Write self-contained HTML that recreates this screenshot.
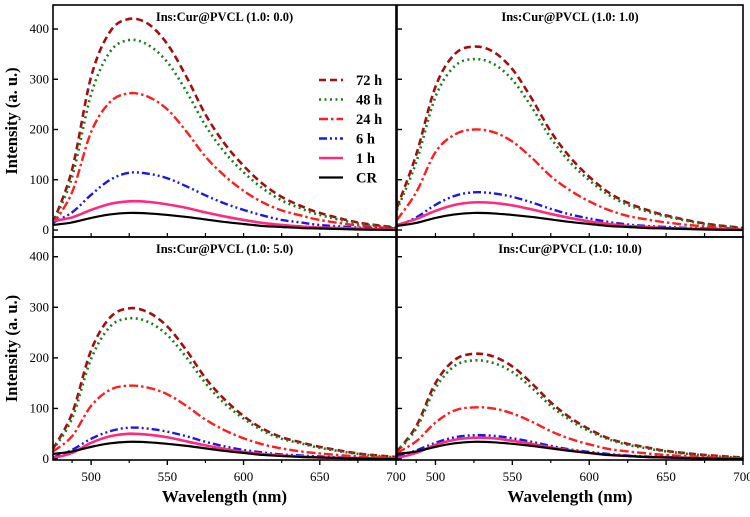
<!DOCTYPE html>
<html><head><meta charset="utf-8"><style>
body{margin:0;background:#fff}
svg text{font-family:"Liberation Serif",serif;font-weight:bold}
</style></head><body>
<svg id="c" width="750" height="512" viewBox="0 0 750 512"></svg>
<script>
const wavelengths=[475,487.5,500,512.5,525,537.5,550,562.5,575,587.5,600,612.5,625,637.5,650,675,700];
const seriesLabels=["72 h","48 h","24 h","6 h","1 h","CR"];
const panelTitles=["Ins:Cur@PVCL (1.0: 0.0)","Ins:Cur@PVCL (1.0: 1.0)","Ins:Cur@PVCL (1.0: 5.0)","Ins:Cur@PVCL (1.0: 10.0)"];
const xTicks=[500,550,600,650,700];
const yTicks=[0,100,200,300,400];
const panelA=[
[15,120,305,395,420,410,370,305,230,172,128,92,66,48,34,15,5],
[14,105,270,355,378,368,334,276,208,155,115,83,59,43,30,13,4],
[12,75,195,255,272,265,240,196,146,108,78,55,39,29,20,9,3],
[15,35,70,100,114,112,103,87,69,53,40,29,20,15,10,5,2],
[18,25,40,52,57,56,51,44,35,27,20,14,10,7,5,3,1],
[10,15,24,31,34,33,30,26,21,16,12,8,6,4,3,1,0]];
const panelB=[
[45,150,285,350,365,355,320,262,196,145,106,75,54,40,29,13,4],
[40,135,265,326,340,331,299,245,183,135,99,70,50,37,27,12,4],
[20,75,155,190,200,195,176,144,107,79,57,40,28,21,15,7,2],
[8,25,50,68,75,73,66,55,42,31,23,16,11,8,6,3,1],
[10,22,38,50,55,54,49,41,32,24,17,12,8,6,4,2,1],
[8,14,24,31,34,33,30,26,21,16,12,8,6,4,3,1,0]];
const panelC=[
[20,90,215,280,298,290,262,215,160,118,85,60,43,33,24,11,4],
[18,80,198,262,278,271,245,201,150,110,80,56,40,31,22,10,3],
[15,45,105,137,145,141,128,105,78,57,41,29,21,15,11,5,2],
[3,18,40,55,62,60,54,45,34,25,18,13,9,7,5,2,1],
[2,12,32,45,50,48,43,35,27,20,14,10,7,5,3,2,1],
[10,15,24,31,34,33,30,26,21,16,12,8,6,4,3,1,0]];
const panelD=[
[15,65,150,196,208,203,183,150,112,82,59,41,30,23,16,8,3],
[14,60,140,184,195,190,172,141,105,77,55,39,28,21,15,7,2],
[12,35,72,96,102,100,90,74,55,40,29,20,15,11,8,4,1],
[5,17,32,43,47,46,41,34,26,19,14,10,7,5,4,2,1],
[2,12,28,38,42,41,36,30,23,17,12,8,6,4,3,2,1],
[10,15,24,31,34,33,30,26,21,16,12,8,6,4,3,1,0]];
const allPanels=[panelA,panelB,panelC,panelD];

const NS="http://www.w3.org/2000/svg";
const svg=document.getElementById('c');
function mk(tag,attrs,parent){const e=document.createElementNS(NS,tag);for(const k in attrs)e.setAttribute(k,attrs[k]);(parent||svg).appendChild(e);return e;}
const styles=[
{stroke:"#a30f0f",w:2.6,dash:"7,4"},
{stroke:"#1b7d1b",w:2.6,dash:"2,3.5"},
{stroke:"#ff1e1e",w:2.4,dash:"9,3,2.5,3"},
{stroke:"#1a1ae6",w:2.4,dash:"8,3,2,3,2,3"},
{stroke:"#ff2a7f",w:2.6,dash:""},
{stroke:"#000",w:2.2,dash:""}];
const geo=[
{x0:53,x1:396,top:5,zero:230,k:0.5025},
{x0:397,x1:743,top:5,zero:230,k:0.5025},
{x0:53,x1:396,top:237,zero:459,k:0.5057},
{x0:397,x1:743,top:237,zero:459,k:0.5057}];
geo.forEach((g,pi)=>{
  const xs=v=>g.x0+(v-475)/225*(g.x1-g.x0);
  const ys=v=>g.zero-v*g.k;
  const bottom=pi<2?237:460;
  const grp=mk('g',{});
  
  
  const clipId='cl'+pi;
  const cp=mk('clipPath',{id:clipId},grp);mk('rect',{x:g.x0,y:g.top,width:g.x1-g.x0,height:bottom-g.top},cp);
  allPanels[pi].forEach((vals,si)=>{
    const pts=vals.map((v,i)=>[xs(wavelengths[i]),ys(v)]);
    let d="M"+pts[0][0]+","+pts[0][1];
    for(let i=0;i<pts.length-1;i++){
      const p0=pts[Math.max(0,i-1)],p1=pts[i],p2=pts[i+1],p3=pts[Math.min(pts.length-1,i+2)];
      d+=" C"+(p1[0]+(p2[0]-p0[0])/6)+","+(p1[1]+(p2[1]-p0[1])/6)+" "+(p2[0]-(p3[0]-p1[0])/6)+","+(p2[1]-(p3[1]-p1[1])/6)+" "+p2[0]+","+p2[1];
    }
    const s=styles[si];
    const p=mk('path',{d:d,fill:"none",stroke:s.stroke,"stroke-width":s.w,"stroke-dasharray":s.dash,"clip-path":"url(#"+clipId+")"},grp);
    
    
  });
  const fr=mk('rect',{x:g.x0,y:g.top,width:g.x1-g.x0,height:bottom-g.top,fill:"none",stroke:"#000","stroke-width":1.6},grp);
  
  
  yTicks.forEach(t=>{
    mk('line',{x1:g.x0,x2:g.x0+5,y1:ys(t),y2:ys(t),stroke:"#000","stroke-width":1.4},grp);
    if(pi===0||pi===2){
      const tl=mk('text',{x:g.x0-4,y:ys(t)+4,"text-anchor":"end","font-size":13,style:"font-weight:normal"},grp);
      tl.textContent=t;
      
      
    }
  });
  if(pi>=2){
    xTicks.forEach(t=>{
      mk('line',{x1:xs(t),x2:xs(t),y1:bottom,y2:bottom+5,stroke:"#000","stroke-width":1.4},grp);
      const tl=mk('text',{x:xs(t),y:481,"text-anchor":"middle","font-size":13,style:"font-weight:normal"},grp);
      tl.textContent=t;
      
      
    });
    [487.5,525,575,625,675].forEach(t=>mk('line',{x1:xs(t),x2:xs(t),y1:bottom,y2:bottom+3,stroke:"#000","stroke-width":1.2},grp));
    const xt=mk('text',{x:(g.x0+g.x1)/2,y:502,"text-anchor":"middle","font-size":17},grp);
    xt.textContent="Wavelength (nm)";
    
    
  } else {
    [500,525,550,575,600,625,650,675].forEach(t=>mk('line',{x1:xs(t),x2:xs(t),y1:bottom,y2:bottom-4,stroke:"#000","stroke-width":1.2},grp));
  }
  const tt=mk('text',{x:(g.x0+g.x1)/2,y:g.top+16,"text-anchor":"middle","font-size":12.5},grp);
  tt.textContent=panelTitles[pi];
  
  
  if(pi===0||pi===2){
    const cy=(g.top+bottom)/2;
    const yt=mk('text',{x:17,y:cy,"text-anchor":"middle","font-size":16.5,transform:"rotate(-90 17 "+cy+")"},grp);
    yt.textContent="Intensity (a. u.)";
    
    
  }
});
const lg=mk('g',{});


seriesLabels.forEach((l,i)=>{
  const y=80+i*19.5,s=styles[i];
  const e=mk('g',{},lg);
  
  
  mk('line',{x1:319,x2:343,y1:y,y2:y,stroke:s.stroke,"stroke-width":s.w,"stroke-dasharray":s.dash},e);
  const t=mk('text',{x:356,y:y+5,"font-size":14.5},e);
  t.textContent=l;
});
</script>
</body></html>
